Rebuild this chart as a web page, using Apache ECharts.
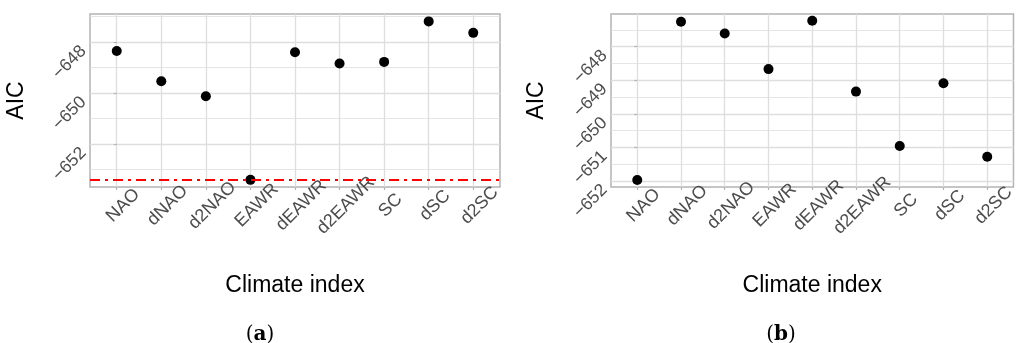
<!DOCTYPE html>
<html>
<head>
<meta charset="utf-8">
<script src="https://cdn.jsdelivr.net/npm/echarts@6/dist/echarts.min.js"></script>
<style>
html,body{margin:0;padding:0;background:#fff;}
#c{width:1018px;height:343px;}
</style>
</head>
<body>
<div id="c"></div>
<script>
var categories = ['NAO','dNAO','d2NAO','EAWR','dEAWR','d2EAWR','SC','dSC','d2SC'];
var aicA = [-648.35,-649.54,-650.13,-653.41,-648.40,-648.84,-648.78,-647.19,-647.64];
var aicB = [-651.97,-647.26,-647.61,-648.67,-647.23,-649.34,-650.96,-649.09,-651.28];
var ticksA = [-652,-650,-648];
var minorA = [-653,-651,-649,-647];
var ticksB = [-652,-651,-650,-649,-648];
var minorB = [-651.5,-650.5,-649.5,-648.5,-647.5];
var rangeA = [-653.69,-646.9];
var rangeB = [-652.18,-647.03];
var xName = 'Climate index';
var yName = 'AIC';

var catIdx = categories.map(function(_, i){ return i; });
var FONT = '"Liberation Sans", Arial, sans-serif';
var gridCol = '#dedede';
var border = '#b3b3b3';

function fmtMinus(v){ return String(v).replace('-', '\u2212'); }

function xAxis(gi){
  return {
    type:'value', gridIndex:gi, min:-0.6, max:categories.length - 0.4,
    name:xName, nameLocation:'middle', nameGap:87,
    nameTextStyle:{fontFamily:FONT, fontSize:23, color:'#000'},
    axisLine:{show:false},
    axisTick:{show:true, customValues:catIdx, length:3, lineStyle:{color:border, width:1.2}},
    axisLabel:{customValues:catIdx, rotate:45, margin:12, align:'center', verticalAlign:'top',
      fontFamily:FONT, fontSize:18, color:'#4d4d4d',
      formatter:function(v){ return categories[Math.round(v)]; }},
    splitLine:{show:true, lineStyle:{color:gridCol, width:1.3}}
  };
}
function yMajor(gi, ticks, range, gap){
  return {
    type:'value', gridIndex:gi, min:range[0], max:range[1],
    name:yName, nameLocation:'middle', nameGap:gap, nameRotate:90,
    nameTextStyle:{fontFamily:FONT, fontSize:23, color:'#000'},
    axisLine:{show:false},
    axisTick:{show:true, customValues:ticks, length:3, lineStyle:{color:border, width:1.2}},
    axisLabel:{customValues:ticks, rotate:45, margin:13, verticalAlign:'top',
      fontFamily:FONT, fontSize:17.5, color:'#4d4d4d', formatter:fmtMinus},
    splitLine:{show:true, lineStyle:{color:gridCol, width:1.3}}
  };
}
function yMinor(gi, ticks, range){
  return {
    type:'value', gridIndex:gi, min:range[0], max:range[1],
    axisLine:{show:false},
    axisTick:{show:false, customValues:ticks},
    axisLabel:{show:false},
    splitLine:{show:true, lineStyle:{color:gridCol, width:0.8}}
  };
}

var minA = Math.min.apply(null, aicA);
var capStyle = {fontFamily:'"DejaVu Serif", serif', fontSize:20, fontWeight:'normal', color:'#000',
  rich:{bold:{fontFamily:'"DejaVu Serif", serif', fontSize:20, fontWeight:'bold', color:'#000'}}};

var option = {
  animation:false,
  backgroundColor:'#fff',
  grid:[
    {left:90, top:14, width:410, height:173, show:true, borderColor:border, borderWidth:1.5, backgroundColor:'transparent'},
    {left:611, top:14, width:411, height:173, show:true, borderColor:border, borderWidth:1.5, backgroundColor:'transparent'}
  ],
  title:[
    {text:'({bold|a})', left:255, top:320, textAlign:'center', textStyle:capStyle},
    {text:'({bold|b})', left:776, top:320, textAlign:'center', textStyle:capStyle}
  ],
  xAxis:[xAxis(0), xAxis(1)],
  yAxis:[yMajor(0, ticksA, rangeA, 62), yMinor(0, minorA, rangeA), yMajor(1, ticksB, rangeB, 63), yMinor(1, minorB, rangeB)],
  series:[
    {type:'scatter', xAxisIndex:0, yAxisIndex:0, symbolSize:10, itemStyle:{color:'#000', opacity:1},
      data:aicA.map(function(v,i){ return [i, v]; }),
      markLine:{silent:true, symbol:'none', label:{show:false},
        lineStyle:{color:'#ff0000', width:2, type:[10,5,3,5]},
        data:[{yAxis:minA}]},
      z:3},
    {type:'scatter', xAxisIndex:1, yAxisIndex:2, symbolSize:10, itemStyle:{color:'#000', opacity:1},
      data:aicB.map(function(v,i){ return [i, v]; }), z:3}
  ]
};
var chart = echarts.init(document.getElementById('c'), null, {renderer:'canvas'});
chart.setOption(option);
</script>
</body>
</html>
